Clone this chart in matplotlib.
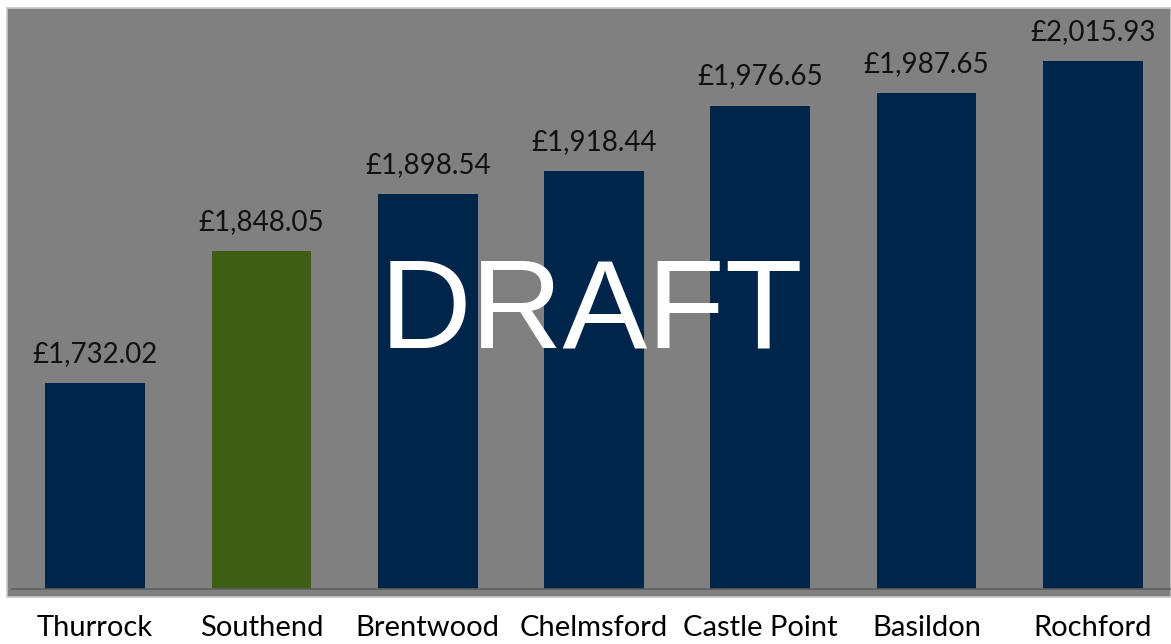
import matplotlib.pyplot as plt
from matplotlib.patches import Rectangle

areas = ['Thurrock', 'Southend', 'Brentwood', 'Chelmsford', 'Castle Point', 'Basildon', 'Rochford']
charges = [1732.02, 1848.05, 1898.54, 1918.44, 1976.65, 1987.65, 2015.93]
bar_colors = ['#00254a', '#3d5e13', '#00254a', '#00254a', '#00254a', '#00254a', '#00254a']

W, H = 1171, 644
fig = plt.figure(figsize=(W / 100, H / 100), dpi=100)
fig.patch.set_facecolor('white')

# grey chart area behind the plot
fig.patches.append(Rectangle((7 / W, 1 - 597 / H), (W - 7) / W, (597 - 8) / H,
                             transform=fig.transFigure, facecolor='#808080',
                             edgecolor='#c8c8c8', linewidth=1.2, zorder=-1))

ax = fig.add_axes([12 / W, 1 - 589 / H, (W - 12) / W, (589 - 8) / H])
ax.patch.set_alpha(0)
ax.bar(range(len(areas)), charges, width=0.6, color=bar_colors, zorder=2)
ax.set_xlim(-0.5, 6.47)
ax.set_ylim(1550, 2062.7)

for i, v in enumerate(charges):
    ax.annotate('£{:,.2f}'.format(v), (i, v), xytext=(0, 11.5), textcoords='offset points',
                ha='center', va='bottom', fontsize=20, family='Lato', color='#111111')

for s in ['top', 'right', 'left']:
    ax.spines[s].set_visible(False)
ax.spines['bottom'].set_color('#5f5f5f')
ax.spines['bottom'].set_linewidth(1.2)
ax.set_yticks([])
ax.set_xticks(range(len(areas)))
ax.set_xticklabels(areas, fontsize=21, family='Lato', color='black')
ax.tick_params(axis='x', length=0, pad=19)

fig.text(591 / W, 1 - 348 / H, 'DRAFT', ha='center', va='baseline', color='white',
         fontsize=91.5, family='Liberation Sans', zorder=5)

fig.savefig('out.png', dpi=100)
